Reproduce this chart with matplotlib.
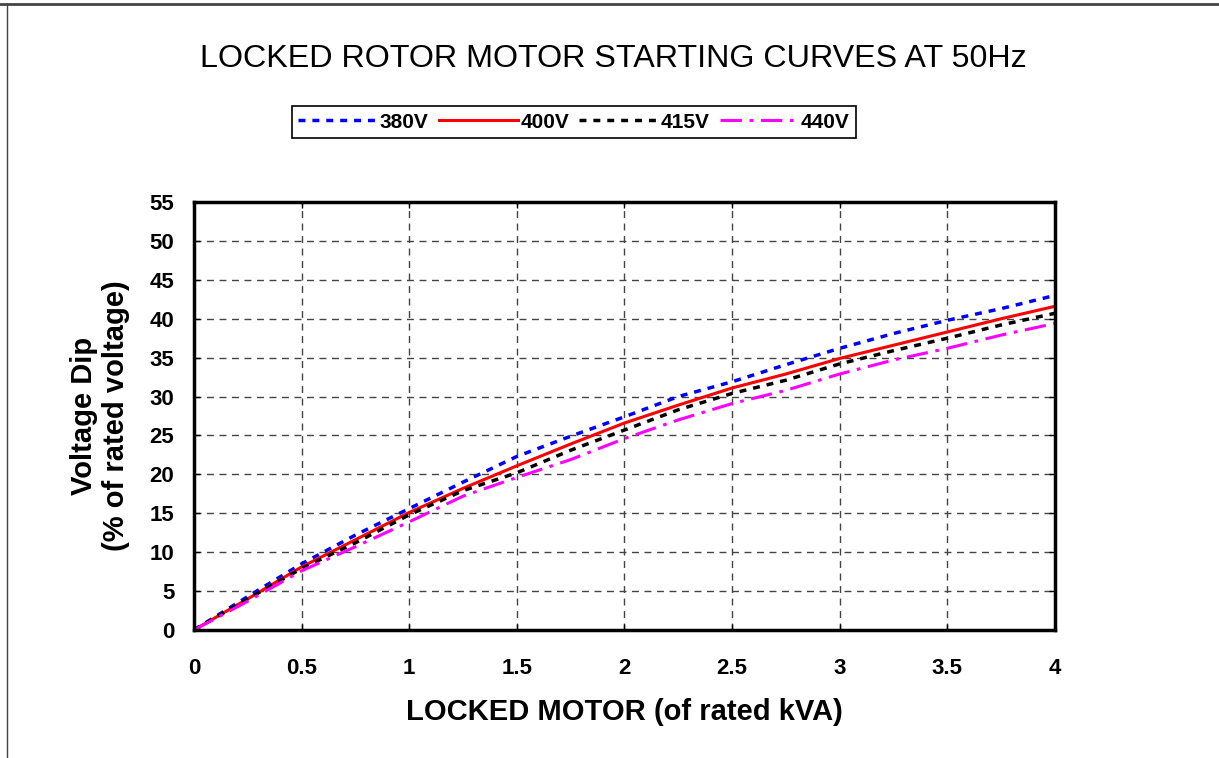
import matplotlib
matplotlib.use("Agg")
import matplotlib.pyplot as plt
from matplotlib.lines import Line2D

plt.rcParams['font.family'] = ['Liberation Sans', 'DejaVu Sans']

# Data
kva = [0, 0.25, 0.5, 0.75, 1, 1.25, 1.5, 1.75, 2, 2.25, 2.5, 2.75, 3, 3.25, 3.5, 3.75, 4]
dip_380 = [0, 4.3, 8.5, 12.2, 15.6, 19.0, 22.3, 24.9, 27.4, 30.0, 31.9, 34.1, 36.2, 38.1, 39.8, 41.3, 43.0]
dip_400 = [0, 4.0, 8.1, 11.6, 15.1, 18.2, 21.1, 23.9, 26.6, 28.9, 31.1, 32.9, 34.9, 36.6, 38.3, 40.0, 41.6]
dip_415 = [0, 4.0, 7.9, 11.2, 14.8, 17.9, 20.2, 23.1, 25.7, 28.3, 30.4, 32.1, 34.2, 35.9, 37.5, 39.2, 40.7]
dip_440 = [0, 3.7, 7.6, 10.7, 13.9, 17.2, 19.6, 21.9, 24.6, 27.0, 29.1, 30.8, 32.9, 34.7, 36.2, 37.9, 39.4]

x_ticks = [0, 0.5, 1, 1.5, 2, 2.5, 3, 3.5, 4]
x_tick_labels = ['0', '0.5', '1', '1.5', '2', '2.5', '3', '3.5', '4']
y_ticks = list(range(0, 56, 5))

fig = plt.figure(figsize=(12.19, 7.58), dpi=100)
ax = fig.add_axes([0.1591, 0.1689, 0.7064, 0.5646])

ax.plot(kva, dip_380, color='#0000ff', lw=2.5, ls=(0, (2, 2)), label='380V')
ax.plot(kva, dip_400, color='#ff0000', lw=2.2, ls='-', label='400V')
ax.plot(kva, dip_415, color='black', lw=2.5, ls=(0, (2, 2)), label='415V')
ax.plot(kva, dip_440, color='#ff00ff', lw=2.2, ls=(0, (7, 2.5, 1.2, 2.5)), label='440V')

ax.set_xlim(0, 4)
ax.set_ylim(0, 55)
ax.set_xticks(x_ticks)
ax.set_xticklabels(x_tick_labels)
ax.set_yticks(y_ticks)
ax.grid(True, color='#444444', ls=(0, (5, 4)), lw=1)
ax.tick_params(axis='both', direction='in', length=4, width=1,
               labelsize=16, top=True, right=True)
ax.tick_params(axis='x', pad=20)
ax.tick_params(axis='y', pad=14)
for lab in ax.get_xticklabels() + ax.get_yticklabels():
    lab.set_fontweight('bold')
for sp in ax.spines.values():
    sp.set_linewidth(2.5)

ax.set_xlabel('LOCKED MOTOR (of rated kVA)', fontsize=21, fontweight='bold', labelpad=14)
ax.set_ylabel('Voltage Dip\n(% of rated voltage)', fontsize=21, fontweight='bold', labelpad=14)

fig.text(0.503, 0.922, 'LOCKED ROTOR MOTOR STARTING CURVES AT 50Hz',
         ha='center', va='center', fontsize=23.2)

leg = fig.legend(loc='center', bbox_to_anchor=(0.471, 0.839), ncol=4,
                 prop={'size': 15, 'weight': 'bold'}, handlelength=3.8,
                 handletextpad=0.1, columnspacing=0.5, fancybox=False,
                 framealpha=1, edgecolor='black', borderpad=0.3)
leg.get_frame().set_linewidth(1.2)

# outer frame lines (top and left)
fig.add_artist(Line2D([0, 1], [0.995, 0.995], color='#444444', lw=2, transform=fig.transFigure))
fig.add_artist(Line2D([0.006, 0.006], [0, 0.995], color='#444444', lw=1, transform=fig.transFigure))

fig.savefig('out.png', dpi=100)
